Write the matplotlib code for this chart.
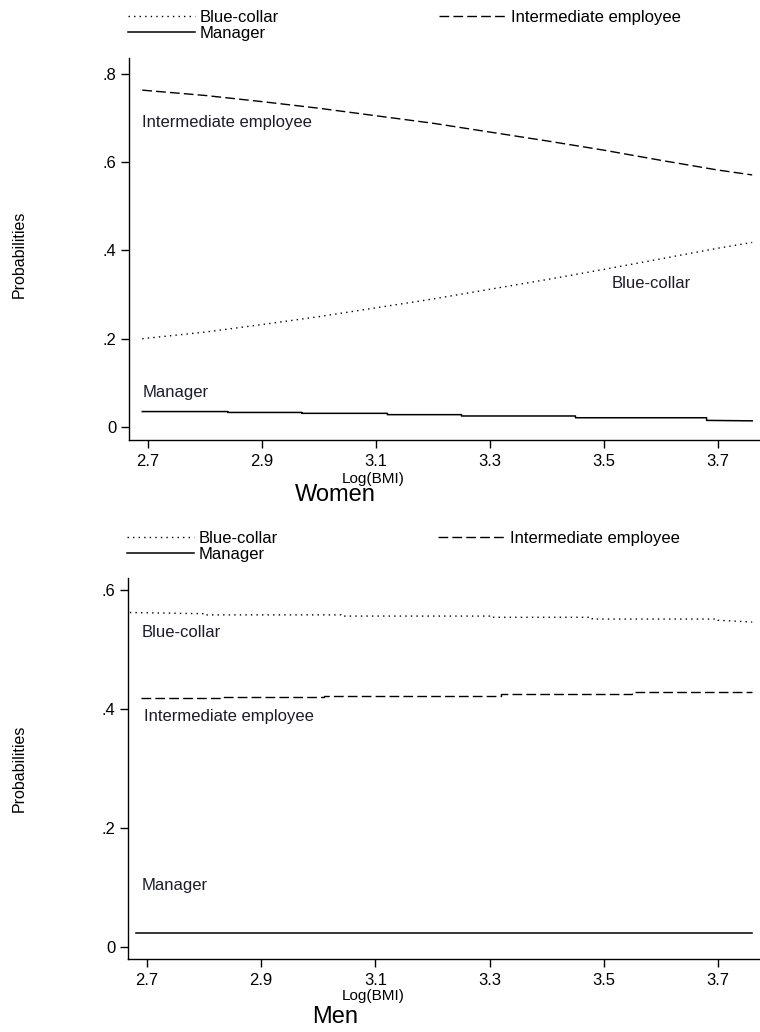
import matplotlib
matplotlib.use("Agg")
import matplotlib.pyplot as plt
from matplotlib import font_manager

# font: Arial-like
names = {f.name for f in font_manager.fontManager.ttflist}
FONT = "Liberation Sans" if "Liberation Sans" in names else "DejaVu Sans"
plt.rcParams['font.family'] = [FONT, 'DejaVu Sans']

# Women
W_X = [2.69, 2.80, 2.90, 3.00, 3.10, 3.20, 3.30, 3.40, 3.50, 3.60, 3.70, 3.76]
W_BLUE = [0.200, 0.215, 0.232, 0.250, 0.270, 0.290, 0.312, 0.334, 0.357, 0.381, 0.405, 0.418]
W_INTER = [0.763, 0.751, 0.737, 0.722, 0.705, 0.688, 0.668, 0.648, 0.627, 0.604, 0.582, 0.571]
W_MAN_X = [2.69, 2.84, 2.84, 2.97, 2.97, 3.12, 3.12, 3.25, 3.25, 3.45, 3.45, 3.68, 3.68, 3.76]
W_MAN = [0.035, 0.035, 0.033, 0.033, 0.031, 0.031, 0.028, 0.028, 0.025, 0.025, 0.021, 0.021, 0.015, 0.014]

# Men
M_BLUE_X = [2.67, 2.80, 2.80, 3.04, 3.04, 3.30, 3.30, 3.48, 3.48, 3.70, 3.70, 3.76]
M_BLUE = [0.562, 0.560, 0.558, 0.558, 0.556, 0.556, 0.554, 0.554, 0.551, 0.551, 0.549, 0.546]
M_INTER_X = [2.69, 2.83, 2.83, 3.01, 3.01, 3.32, 3.32, 3.55, 3.55, 3.76]
M_INTER = [0.418, 0.418, 0.420, 0.420, 0.422, 0.422, 0.425, 0.425, 0.428, 0.428]
M_MAN_X = [2.68, 3.76]
M_MAN = [0.024, 0.024]

X_TICKS = [2.7, 2.9, 3.1, 3.3, 3.5, 3.7]
X_TICK_LABELS = ["2.7", "2.9", "3.1", "3.3", "3.5", "3.7"]
W_Y_TICKS = [0, 0.2, 0.4, 0.6, 0.8]
W_Y_LABELS = ["0", ".2", ".4", ".6", ".8"]
M_Y_TICKS = [0, 0.2, 0.4, 0.6]
M_Y_LABELS = ["0", ".2", ".4", ".6"]

DOT = (0, (1, 3))
DASH = (0, (7, 3))
FS = 12

fig = plt.figure(figsize=(7.6, 10.32), dpi=100)


def panel(rect, ylim, yticks, ylabels, blue, inter, man, labels, legend_y, xlab_y, title, title_y, ytitle_y):
    ax = fig.add_axes(rect)
    bl, = ax.plot(blue[0], blue[1], color='black', lw=1.0, linestyle=DOT, label='Blue-collar')
    il, = ax.plot(inter[0], inter[1], color='black', lw=1.0, linestyle=DASH, label='Intermediate employee')
    ml, = ax.plot(man[0], man[1], color='black', lw=1.1, linestyle='-', label='Manager')
    ax.set_xlim(2.6667, 3.7737)
    ax.set_ylim(*ylim)
    ax.set_xticks(X_TICKS, X_TICK_LABELS)
    ax.set_yticks(yticks, ylabels)
    for s in ('top', 'right'):
        ax.spines[s].set_visible(False)
    for s in ('left', 'bottom'):
        ax.spines[s].set_linewidth(1.0)
    ax.tick_params(direction='out', length=6, width=1.0, labelsize=12, pad=3)
    ax.tick_params(axis='x', pad=4)

    for txt, (x, y) in labels.items():
        ax.text(x, y, txt, fontsize=FS, va='center', ha='left', color='#1c1c2c')

    fig.legend(handles=[bl, ml, il], ncol=2, loc='upper left',
               bbox_to_anchor=(rect[0] - 0.001, legend_y), frameon=False,
               fontsize=FS, handlelength=4.0, handletextpad=0.3,
               columnspacing=9.6, labelspacing=0.04, borderpad=0, borderaxespad=0)

    fig.text(373 / 760, xlab_y, "Log(BMI)", fontsize=11, ha='center', va='center')
    fig.text(335 / 760, title_y, title, fontsize=17, ha='center', va='center')
    fig.text(19 / 760, ytitle_y, "Probabilities", fontsize=11.5, rotation=90, ha='center', va='center')
    return ax


panel([129 / 760, 1 - 440 / 1032, 1 - 129 / 760, 382 / 1032], (-0.0294, 0.8358),
      W_Y_TICKS, W_Y_LABELS,
      (W_X, W_BLUE), (W_X, W_INTER), (W_MAN_X, W_MAN),
      {"Intermediate employee": (2.689, 0.689), "Blue-collar": (3.514, 0.324), "Manager": (2.691, 0.079)},
      1 - 10 / 1032, 1 - 479 / 1032, "Women", 1 - 495 / 1032, 1 - 254 / 1032)

panel([128 / 760, 1 - 959 / 1032, 1 - 128 / 760, 381 / 1032], (-0.0202, 0.620),
      M_Y_TICKS, M_Y_LABELS,
      (M_BLUE_X, M_BLUE), (M_INTER_X, M_INTER), (M_MAN_X, M_MAN),
      {"Blue-collar": (2.691, 0.529), "Intermediate employee": (2.695, 0.387), "Manager": (2.691, 0.1025)},
      1 - 531 / 1032, 1 - 996 / 1032, "Men", 1 - 1017 / 1032, 1 - 768 / 1032)

fig.savefig("out.png", dpi=100)
